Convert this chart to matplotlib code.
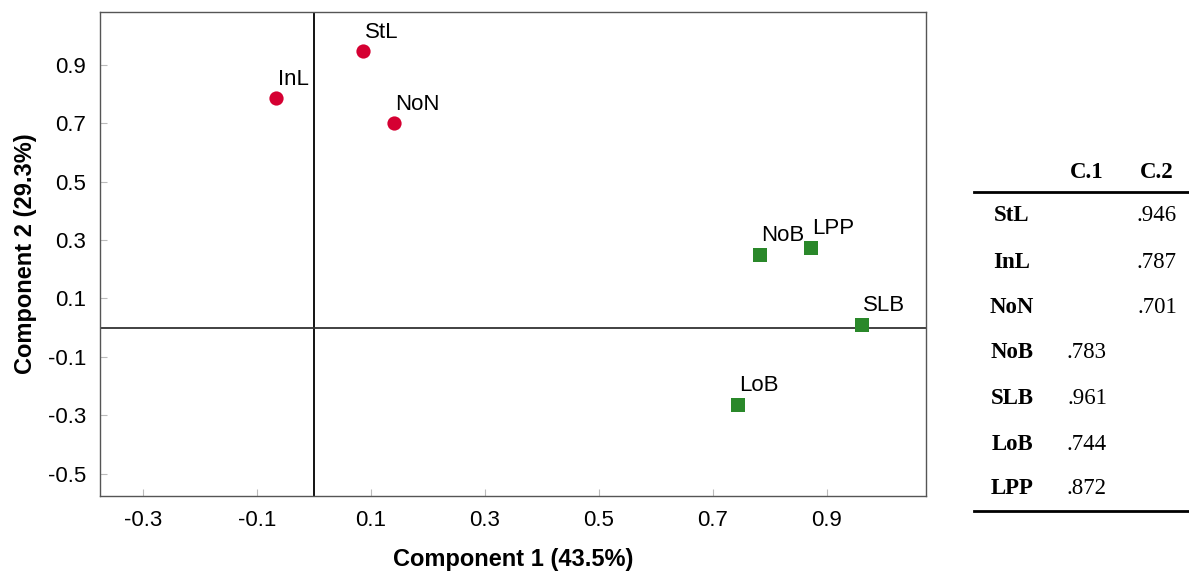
import matplotlib.pyplot as plt
from matplotlib.lines import Line2D

# loadings (component 1, component 2)
red_names = ["StL", "InL", "NoN"]
red_c1 = [0.087, -0.066, 0.141]
red_c2 = [0.946, 0.787, 0.701]

green_names = ["NoB", "LPP", "SLB", "LoB"]
green_c1 = [0.783, 0.872, 0.961, 0.744]
green_c2 = [0.250, 0.274, 0.010, -0.264]

# rotated component matrix shown on the right
table_rows = ["StL", "InL", "NoN", "NoB", "SLB", "LoB", "LPP"]
table_c1 = ["", "", "", ".783", ".961", ".744", ".872"]
table_c2 = [".946", ".787", ".701", "", "", "", ""]

plt.rcParams['font.family'] = ['Liberation Sans', 'DejaVu Sans']

fig = plt.figure(figsize=(11.89, 5.75), dpi=100)
ax = fig.add_axes([0.0841, 0.1374, 0.6947, 0.8417])

ax.axvline(0, color="black", lw=1.3, zorder=1)
ax.axhline(0, color="#333333", lw=1.3, zorder=1)

ax.scatter(red_c1, red_c2, s=105, marker="o", color="#D50032", zorder=3, linewidths=0)
ax.scatter(green_c1, green_c2, s=105, marker="s", color="#2A882A", zorder=3, linewidths=0)

for names, xs, ys in [(red_names, red_c1, red_c2), (green_names, green_c1, green_c2)]:
    for n, x, y in zip(names, xs, ys):
        ax.annotate(n, (x, y), xytext=(1, 9.5), textcoords="offset points",
                    fontsize=16, ha="left", va="baseline")

ax.set_xlim(-0.375, 1.074)
ax.set_ylim(-0.577, 1.081)
ax.set_xticks([-0.3, -0.1, 0.1, 0.3, 0.5, 0.7, 0.9])
ax.set_yticks([-0.5, -0.3, -0.1, 0.1, 0.3, 0.5, 0.7, 0.9])
ax.set_xticklabels(["-0.3", "-0.1", "0.1", "0.3", "0.5", "0.7", "0.9"])
ax.set_yticklabels(["-0.5", "-0.3", "-0.1", "0.1", "0.3", "0.5", "0.7", "0.9"])
ax.tick_params(direction="in", length=5, color="#bbbbbb", labelsize=16, pad=10)

for sp in ax.spines.values():
    sp.set_color("#555555")
    sp.set_linewidth(1)

ax.set_xlabel("Component 1 (43.5%)", fontsize=17, fontweight="bold", labelpad=12)
ax.set_ylabel("Component 2 (29.3%)", fontsize=17, fontweight="bold", labelpad=8)

# table drawn in figure pixels
W, H = 1189, 575
serif = ['Liberation Serif', 'DejaVu Serif']

def fx(px):
    return px / W

def fy(py):
    return 1 - py / H

fig.text(fx(1087), fy(172), "C.1", family=serif, fontsize=16.5, fontweight="bold", ha="center", va="center")
fig.text(fx(1157), fy(172), "C.2", family=serif, fontsize=16.5, fontweight="bold", ha="center", va="center")
fig.add_artist(Line2D([fx(974), fx(1189)], [fy(192), fy(192)], color="black", lw=2))

row_y = [216, 262, 308, 353, 398, 444, 489]
for name, v1, v2, py in zip(table_rows, table_c1, table_c2, row_y):
    fig.text(fx(1012), fy(py), name, family=serif, fontsize=16.5, fontweight="bold", ha="center", va="center")
    if v1:
        fig.text(fx(1087), fy(py), v1, family=serif, fontsize=16.5, ha="center", va="center")
    if v2:
        fig.text(fx(1157), fy(py), v2, family=serif, fontsize=16.5, ha="center", va="center")

fig.add_artist(Line2D([fx(974), fx(1189)], [fy(511), fy(511)], color="black", lw=2))

fig.savefig("out.png", dpi=100)
